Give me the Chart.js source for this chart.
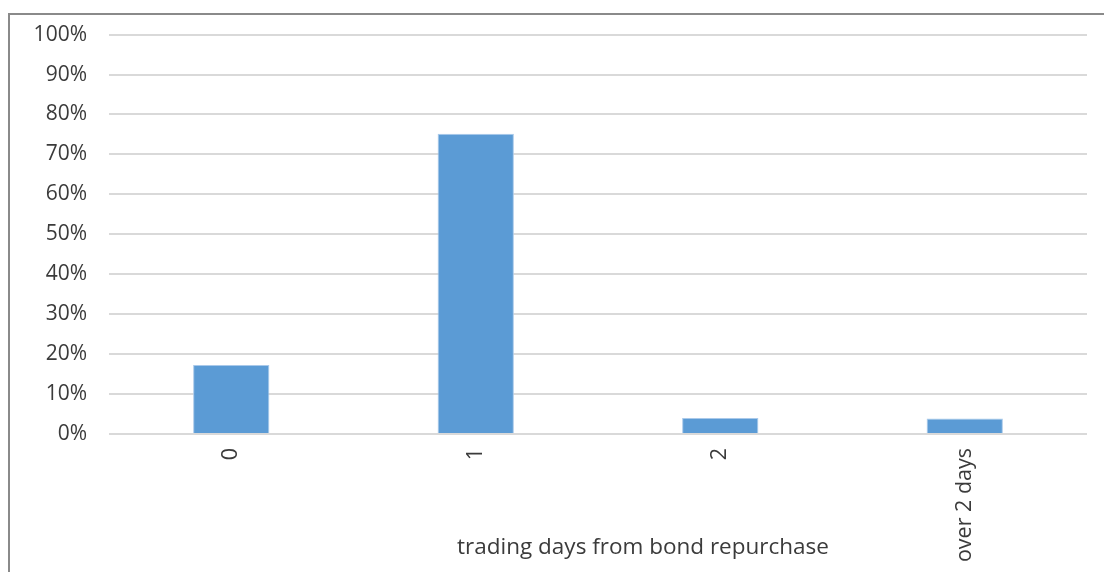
<!DOCTYPE html>
<html>
<head>
<meta charset="utf-8">
<script src="https://cdn.jsdelivr.net/npm/chart.js@4/dist/chart.umd.min.js"></script>
<style>
  html, body { margin: 0; padding: 0; background: #ffffff; }
  #wrap { position: relative; width: 1104px; height: 572px; }
  canvas { display: block; }
</style>
</head>
<body>
<div id="wrap"><canvas id="c" width="1104" height="572"></canvas></div>
<script>
// Share of repurchases by trading days elapsed
const categories = ['0', '1', '2', 'over 2 days'];
const shares = [17.3, 75.2, 4.0, 3.9];
const yTicks = [0, 10, 20, 30, 40, 50, 60, 70, 80, 90, 100];
const xTitle = 'trading days from bond repurchase';

const FONT = '"Open Sans", "Liberation Sans", sans-serif';
const TEXT = '#3b3b3b';

// Outer frame (left and top edges) plus the horizontal axis title
const framePlugin = {
  id: 'frame',
  beforeDraw(chart) {
    const ctx = chart.ctx;
    ctx.save();
    ctx.strokeStyle = '#8a8a8a';
    ctx.lineWidth = 2;
    ctx.beginPath();
    ctx.moveTo(9, chart.height);
    ctx.lineTo(9, 14);
    ctx.lineTo(chart.width, 14);
    ctx.stroke();
    ctx.restore();
  },
  afterDraw(chart) {
    const ctx = chart.ctx;
    const area = chart.chartArea;
    ctx.save();
    ctx.font = '22.5px ' + FONT;
    ctx.fillStyle = TEXT;
    ctx.textAlign = 'center';
    ctx.textBaseline = 'middle';
    ctx.fillText(xTitle, (area.left + area.right) / 2 + 45, 548);
    ctx.restore();
  }
};

new Chart(document.getElementById('c'), {
  type: 'bar',
  data: {
    labels: categories,
    datasets: [{
      data: shares,
      backgroundColor: '#5b9bd5',
      borderColor: '#a9c9ea',
      borderWidth: 1,
      barPercentage: 0.312,
      categoryPercentage: 1
    }]
  },
  options: {
    responsive: false,
    animation: false,
    devicePixelRatio: 1,
    layout: { padding: { left: 0, right: 17, top: 0, bottom: 0 } },
    plugins: {
      legend: { display: false },
      tooltip: { enabled: false }
    },
    scales: {
      x: {
        grid: { display: false, drawTicks: false },
        border: { display: false },
        ticks: {
          color: TEXT,
          font: { family: FONT, size: 21.5 },
          minRotation: 90,
          maxRotation: 90,
          padding: 14
        },
        afterFit(scale) { scale.height = 138; }
      },
      y: {
        min: 0,
        max: 100,
        afterBuildTicks(scale) {
          scale.ticks = yTicks.map(v => ({ value: v }));
        },
        afterFit(scale) { scale.width = 109; },
        grid: { color: '#d9d9d9', lineWidth: 2, drawTicks: false },
        border: { display: false },
        ticks: {
          color: TEXT,
          font: { family: FONT, size: 21 },
          padding: 22,
          callback: v => v + '%'
        }
      }
    }
  },
  plugins: [framePlugin, {
    id: 'topInset',
    beforeLayout(chart) { chart.options.layout.padding.top = 24; }
  }]
});
</script>
</body>
</html>
